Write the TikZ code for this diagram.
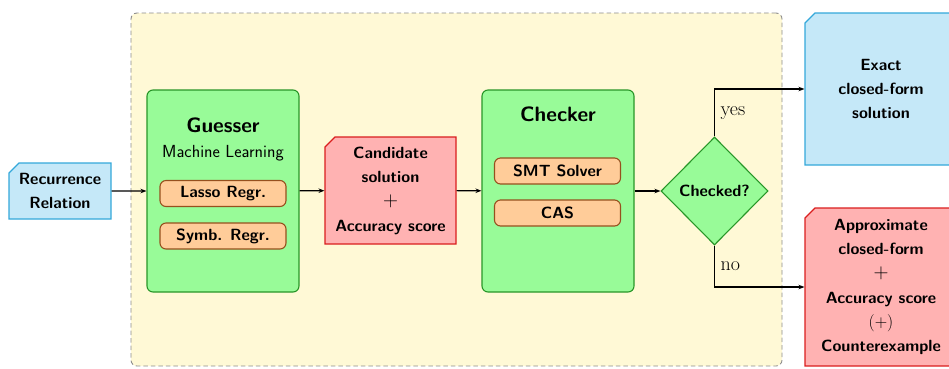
\documentclass[tikz,border=0pt]{standalone}
\usetikzlibrary{shapes.geometric,shapes.misc,arrows.meta}

\definecolor{bgyellow}{RGB}{255,249,214}
\definecolor{bggray}{RGB}{140,140,140}
\definecolor{bluefill}{RGB}{197,232,248}
\definecolor{blueline}{RGB}{52,168,218}
\definecolor{redfill}{RGB}{255,178,178}
\definecolor{redline}{RGB}{218,30,30}
\definecolor{greenfill}{RGB}{152,251,152}
\definecolor{greenline}{RGB}{40,150,40}
\definecolor{peachfill}{RGB}{255,204,153}
\definecolor{peachline}{RGB}{150,80,30}

\tikzset{
  txt/.style={font=\sffamily\bfseries\fontsize{16.2}{24.3}\selectfont, align=center, text=black},
  databox/.style={txt, shape=chamfered rectangle, chamfered rectangle corners=north west,
    chamfered rectangle xsep=5pt, chamfered rectangle ysep=5pt, inner sep=0pt, line width=1.1pt},
  bluebox/.style={databox, draw=blueline, fill=bluefill},
  redbox/.style={databox, draw=redline, fill=redfill},
  stage/.style={draw=greenline, fill=greenfill, rounded corners=6pt, line width=1.1pt, inner sep=0pt},
  tool/.style={txt, draw=peachline, fill=peachfill, rounded corners=6pt, line width=1.1pt, inner sep=0pt,
    minimum width=126pt, minimum height=26pt},
  title/.style={font=\sffamily\bfseries\fontsize{20.8}{24}\selectfont, inner sep=0pt, anchor=base},
  flow/.style={-{Stealth[length=6pt,width=4.5pt]}, line width=1.1pt},
  branch/.style={font=\fontsize{20}{22}\selectfont, inner sep=0pt, anchor=base west}
}

\begin{document}
\begin{tikzpicture}[x=1pt,y=-1pt]
\useasboundingbox (0,0) rectangle (949,368);
\clip (0,0) rectangle (949,368);

% dashed frame around the pipeline
\node (frame) [draw=bggray, fill=bgyellow, dash pattern=on 4.5pt off 3pt, line width=0.9pt,
  rounded corners=6pt, minimum width=651pt, minimum height=353pt, inner sep=0pt] at (456.5,189.5) {};

% input
\node (rec) [bluebox, minimum width=102pt, minimum height=56pt] at (60,191) {Recurrence\\Relation};

% guesser stage
\node (gue) [stage, minimum width=152pt, minimum height=202pt] at (223,191) {};
\node (guet) [title] at (223,132.7) {Guesser};
\node (gues) [font=\sffamily\fontsize{17.5}{20}\selectfont, inner sep=0pt, anchor=base] at (223,157.3) {Machine Learning};
\node (lasso) [tool] at (223,193.5) {Lasso Regr.};
\node (symb) [tool] at (223,236) {Symb. Regr.};

% candidate
\node (cand) [redbox, minimum width=131pt, minimum height=107pt] at (390.5,190.5)
  {Candidate\\solution\\{\fontsize{20}{24.3}\selectfont$+$}\\Accuracy score};

% checker stage
\node (chk) [stage, minimum width=152pt, minimum height=202pt] at (558,191) {};
\node (chkt) [title] at (558,121.7) {Checker};
\node (smt) [tool] at (557.5,171) {SMT Solver};
\node (cas) [tool] at (557.5,213) {CAS};

% decision
\node (dec) [txt, shape=diamond, draw=greenline, fill=greenfill, line width=1.1pt, inner sep=0pt,
  minimum width=107pt, minimum height=108pt] at (714.5,191) {Checked?};

% outcomes
\node (exact) [bluebox, minimum width=152pt, minimum height=152pt] at (881,89)
  {Exact\\closed-form\\solution};
\node (approx) [redbox, minimum width=152pt, minimum height=158pt] at (881,287)
  {Approximate\\closed-form\\{\fontsize{20}{24.3}\selectfont$+$}\\Accuracy score\\{\fontsize{18}{24.3}\selectfont$(+)$}\\Counterexample};

% connectors
\draw[flow] (rec) -- (gue);
\draw[flow] (gue) -- (cand);
\draw[flow] (cand) -- (chk);
\draw[flow] (chk) -- (dec);
\draw[flow] (dec.north) |- (exact.west);
\draw[flow] (dec.south) |- (approx.west);

\node (yes) [branch] at (720.5,115) {yes};
\node (no) [branch] at (720.5,270.5) {no};
\end{tikzpicture}
\end{document}
